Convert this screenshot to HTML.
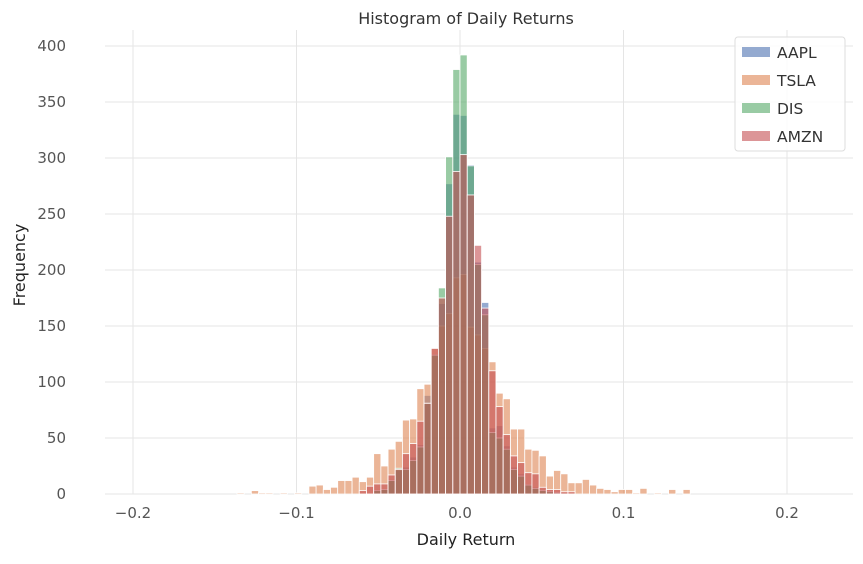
<!DOCTYPE html>
<html><head><meta charset="utf-8"><style>
body{margin:0;background:#fff;font-family:"Liberation Sans",sans-serif}
svg text{font-family:"DejaVu Sans","Liberation Sans",sans-serif}
</style></head><body>
<svg id="chart" width="863" height="559" xmlns="http://www.w3.org/2000/svg">
<text x="466" y="24" text-anchor="middle" font-size="16" fill="#333">Histogram of Daily Returns</text>
<g id="grid"></g><g id="bars"></g><g id="ticks"></g>
<text x="466" y="545" text-anchor="middle" font-size="16" fill="#222">Daily Return</text>
<text transform="translate(25,265) rotate(-90)" text-anchor="middle" font-size="16" fill="#222">Frequency</text>
<g id="legend"></g>
</svg>
<script>
const binWidth = 0.0044;
const kStart = -31;
const seriesNames = ["AAPL","TSLA","DIS","AMZN"];
// counts for bins k = -31 .. 31
const aapl = [0,0,0,0,0,0,0,0,0,0,0,0,0,0,0,0,0,0,0,4,4,13,21,24,33,44,88,125,170,277,339,338,294,207,171,59,61,43,24,18,9,6,4,3,2,1,0,0,0,0,0,0,0,0,0,0,0,0,0,0,0,0,0];
const tsla = [1,0,3,1,1,0,1,0,1,0,7,8,4,6,12,12,15,11,15,36,25,40,47,66,67,94,98,130,150,161,193,196,149,142,130,118,90,85,58,58,40,39,34,16,21,18,10,10,13,8,5,4,2,4,4,1,5,0,1,0,4,0,4];
const dis = [0,0,0,0,0,0,0,0,0,0,0,0,0,0,0,0,0,0,0,3,4,12,23,22,30,42,81,124,184,301,379,392,293,205,160,55,50,40,22,16,8,5,3,2,1,0,0,0,0,0,0,0,0,0,0,0,0,0,0,0,0,0,0];
const amzn = [0,0,0,0,0,0,0,0,0,0,0,0,0,0,0,0,0,3,7,9,9,17,22,36,45,65,81,130,175,248,288,303,267,222,166,110,78,53,34,28,19,18,6,4,4,2,2,0,0,0,0,0,0,0,0,0,0,0,0,0,0,0,0];
const xTicks = [-0.2,-0.1,0.0,0.1,0.2];
const xTickLabels = ["\u22120.2","\u22120.1","0.0","0.1","0.2"];
const yTicks = [0,50,100,150,200,250,300,350,400];
const colors = ["#4c72b0","#dd8452","#55a868","#c44e52"];
const NS="http://www.w3.org/2000/svg";
const X = v => 460 + v*1635;
const Y = c => 494 - c*1.12;
function mk(tag, attrs, parent){const e=document.createElementNS(NS,tag);for(const k in attrs)e.setAttribute(k,attrs[k]);parent.appendChild(e);return e;}
const grid=document.getElementById('grid'), ticks=document.getElementById('ticks'), bars=document.getElementById('bars');
yTicks.forEach(t=>{
  const l=mk('line',{x1:105,x2:853,y1:Y(t),y2:Y(t),stroke:'#e5e5e5','stroke-width':1},grid);
  
  
  const tx=mk('text',{x:66,y:Y(t)+5,'text-anchor':'end','font-size':15,fill:'#555'},ticks);
  tx.textContent=t;
  
  
});
xTicks.forEach((t,i)=>{
  const l=mk('line',{x1:X(t),x2:X(t),y1:30,y2:494,stroke:'#e5e5e5','stroke-width':1},grid);
  
  
  const tx=mk('text',{x:X(t),y:518,'text-anchor':'middle','font-size':15,fill:'#555'},ticks);
  tx.textContent=xTickLabels[i];
  
  
});
[aapl,tsla,dis,amzn].forEach((arr,s)=>{
  arr.forEach((c,i)=>{
    if(c<=0)return;
    const k=kStart+i;
    const x0=X(k*binWidth), x1=X((k+1)*binWidth);
    const r=mk('rect',{x:x0,y:Y(c),width:x1-x0,height:Y(0)-Y(c),fill:colors[s],'fill-opacity':0.6,stroke:'#fff','stroke-width':0.8},bars);
    
    
  });
});
const lg=document.getElementById('legend');
mk('rect',{x:735,y:37,width:110,height:114,rx:3,fill:'#fff','fill-opacity':0.85,stroke:'#ddd'},lg);
seriesNames.forEach((n,i)=>{
  const y=52+i*28;
  const r=mk('rect',{x:742,y:y-5,width:28,height:10,fill:colors[i],'fill-opacity':0.6},lg);
  
  
  const t=mk('text',{x:777,y:y+6,'font-size':15.5,fill:'#333'},lg);
  t.textContent=n;
  
  
});
</script>
</body></html>
